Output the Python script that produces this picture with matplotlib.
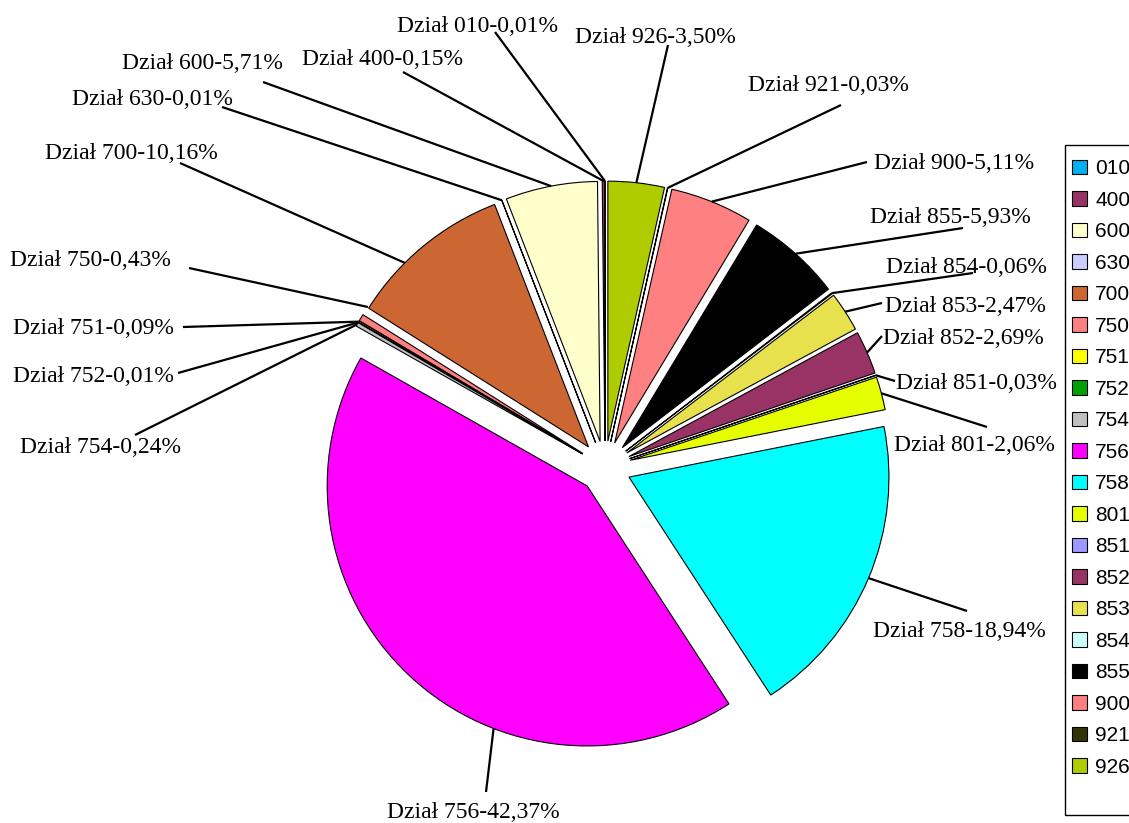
import numpy as np
import matplotlib
matplotlib.use("Agg")
import matplotlib.pyplot as plt
from matplotlib.patches import Patch, Rectangle

# ---- data ----
codes = ["010", "400", "600", "630", "700", "750", "751", "752", "754", "756",
         "758", "801", "851", "852", "853", "854", "855", "900", "921", "926"]
shares = [0.01, 0.15, 5.71, 0.01, 10.16, 0.43, 0.09, 0.01, 0.24, 42.37,
          18.94, 2.06, 0.03, 2.69, 2.47, 0.06, 5.93, 5.11, 0.03, 3.50]
share_labels = ["0,01%", "0,15%", "5,71%", "0,01%", "10,16%", "0,43%", "0,09%", "0,01%", "0,24%", "42,37%",
                "18,94%", "2,06%", "0,03%", "2,69%", "2,47%", "0,06%", "5,93%", "5,11%", "0,03%", "3,50%"]
colors = ["#00B0F0", "#993366", "#FFFFCC", "#CCCCFF", "#CC6633", "#FF8080", "#FFFF00", "#00A000",
          "#C0C0C0", "#FF00FF", "#00FFFF", "#E5FF00", "#9999FF", "#993366", "#E6E14D", "#CCFFFF",
          "#000000", "#FF8080", "#333300", "#AECC00"]

# ---- layout (pixel positions of label text and leader starts) ----
W, H = 1129, 823
CX, CY, R = 605, 467, 260
label_pos = {  # left x, baseline y
    "010": (397, 32), "400": (302, 65), "600": (122, 69), "630": (72, 105), "700": (45, 159),
    "750": (10, 266), "751": (13, 334), "752": (13, 382), "754": (20, 453), "756": (387, 818),
    "758": (873, 637), "801": (894, 451), "851": (896, 389), "852": (883, 344), "853": (885, 312),
    "854": (886, 273), "855": (870, 223), "900": (874, 169), "921": (748, 91), "926": (575, 43),
}
leader_start = {
    "010": (495, 32), "400": (403, 72), "600": (263, 82), "630": (222, 107), "700": (180, 163),
    "750": (189, 268), "751": (183, 327), "752": (178, 373), "754": (135, 435), "756": (486, 792),
    "758": (967, 611), "801": (987, 427), "851": (895, 381), "852": (882, 336), "853": (882, 303),
    "854": (973, 273), "855": (963, 228), "900": (867, 162), "921": (841, 105), "926": (668, 45),
}
anchor_frac = {"700": 0.65, "756": 0.645, "750": -1.3}


def px(x, y):
    return ((x - CX) / R, (CY - y) / R)


fig = plt.figure(figsize=(W / 100, H / 100), dpi=100)
ax = fig.add_axes([0, 0, 1, 1])
wedges, _ = ax.pie(shares, colors=colors, startangle=90, counterclock=True,
                   explode=[0.1] * len(shares), radius=1.0,
                   wedgeprops=dict(edgecolor="black", linewidth=0.8))
ax.set_xlim(px(0, 0)[0], px(W, 0)[0])
ax.set_ylim(px(0, H)[1], px(0, 0)[1])
ax.set_aspect("auto")
ax.axis("off")

for w, code, lab in zip(wedges, codes, share_labels):
    f = anchor_frac.get(code, 0.5)
    th = np.deg2rad(w.theta1 + f * (w.theta2 - w.theta1))
    cx, cy = w.center
    ax_pt = (cx + w.r * np.cos(th), cy + w.r * np.sin(th))
    sx, sy = px(*leader_start[code])
    ax.plot([sx, ax_pt[0]], [sy, ax_pt[1]], color="black", lw=1.6, solid_capstyle="butt")
    tx, ty = px(*label_pos[code])
    ax.text(tx, ty, f"Dział {code}-{lab}", ha="left", va="baseline",
            fontsize=17, family="Liberation Serif", color="black")

# legend frame (drawn separately so it can extend as in the original)
fig.patches.append(Rectangle((1065 / W, 1 - 815 / H), 80 / W, 670 / H,
                             transform=fig.transFigure, facecolor="white",
                             edgecolor="black", linewidth=1.0, zorder=1))
handles = [Patch(facecolor=c, edgecolor="black", linewidth=0.8) for c in colors]
leg = fig.legend(handles, codes, loc="upper left", bbox_to_anchor=(1066 / W, 1 - 153 / H),
                 frameon=False, borderpad=0.3, labelspacing=0.6,
                 handlelength=0.7, handleheight=0.7, handletextpad=0.4,
                 borderaxespad=0, prop=dict(family="Liberation Sans", size=15))
leg.set_zorder(2)

fig.savefig("out.png", dpi=100)
